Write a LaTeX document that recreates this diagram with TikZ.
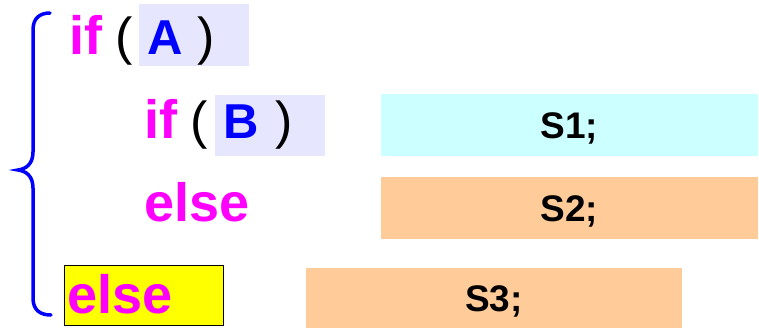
\documentclass[tikz,border=0pt]{standalone}
\usepackage{fontspec}
\setmainfont{Liberation Sans}
\definecolor{kwcol}{HTML}{FF00FF}
\definecolor{condcol}{HTML}{0000FF}
\definecolor{condbg}{HTML}{E6E6FF}
\definecolor{thenbg}{HTML}{CCFFFF}
\definecolor{elsebg}{HTML}{FFCC99}
\definecolor{markbg}{HTML}{FFFF00}
\tikzset{
  kw/.style={anchor=base west, inner sep=0pt, text=kwcol,
    font=\fontsize{54}{58}\selectfont\bfseries},
  paren/.style={anchor=base west, inner sep=0pt,
    font=\fontsize{52}{56}\selectfont},
  cond/.style={anchor=base west, inner sep=0pt, text=condcol,
    font=\fontsize{49}{53}\selectfont\bfseries},
  condbox/.style={fill=condbg, inner sep=0pt, minimum width=110pt, minimum height=61pt},
  stmt/.style={inner sep=0pt, minimum width=377pt, minimum height=62pt,
    text height=26pt, text depth=0pt,
    font=\fontsize{37}{40}\selectfont\bfseries}
}
\begin{document}
\begin{tikzpicture}[x=1pt,y=-1pt]
\useasboundingbox (0,0) rectangle (759,329);

% conditions
\node[condbox] (boxA) at (194,35) {};
\node[condbox] (boxB) at (270,125.5) {};
\node[fill=markbg, draw=black, thin, inner sep=0pt, minimum width=159pt, minimum height=60pt] (boxE) at (143.5,295) {};

% outer if
\node[kw] (if1) at (69,55) {if};
\node[paren] (lp1) at (115,55) {(};
\node[cond] (A) at (147,55) {A};
\node[paren] (rp1) at (197,55) {)};

% inner if
\node[kw] (if2) at (144,138) {if};
\node[paren] (lp2) at (190,138) {(};
\node[cond] (B) at (223,138) {B};
\node[paren] (rp2) at (275,138) {)};
\node[kw] (else2) at (144,221) {else};

% outer else
\node[kw] (else1) at (67,313) {else};

% statements
\node[stmt, fill=thenbg] (s1) at (569.5,125) {S1;};
\node[stmt, fill=elsebg] (s2) at (569.5,208) {S2;};
\node[stmt, fill=elsebg, minimum width=376pt, minimum height=60pt] (s3) at (494,298) {S3;};

% brace
\draw[condcol, line width=3.5pt, line cap=round]
  (50,13) .. controls (40,13) and (33,18) .. (33,30) -- (33,152)
  .. controls (33,164) and (26,169) .. (18,170)
  .. controls (26,171) and (33,176) .. (33,188) -- (33,298)
  .. controls (33,310) and (40,315) .. (51,315);
\end{tikzpicture}
\end{document}
